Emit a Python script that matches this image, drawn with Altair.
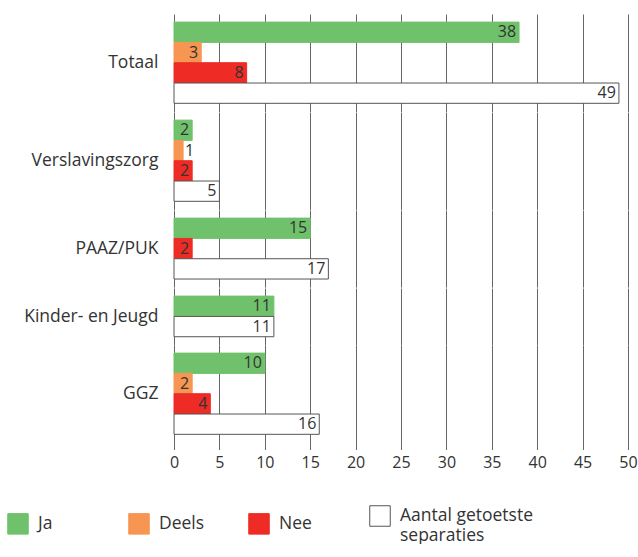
import altair as alt
import pandas as pd

categories = ["Totaal", "Verslavingszorg", "PAAZ/PUK", "Kinder- en Jeugd", "GGZ"]
series = ["Ja", "Deels", "Nee", "Aantal getoetste separaties"]
ja = [38, 2, 15, 11, 10]
deels = [3, 1, 0, 0, 2]
nee = [8, 2, 2, 0, 4]
aantal = [49, 5, 17, 11, 16]
x_ticks = [0, 5, 10, 15, 20, 25, 30, 35, 40, 45, 50]

fill_colors = ["#6fc26b", "#f79552", "#ee2b25", "#ffffff"]
stroke_colors = ["#6fc26b", "#f79552", "#ee2b25", "#555555"]

rows = []
for i, c in enumerate(categories):
    for s, vals in zip(series, [ja, deels, nee, aantal]):
        if vals[i] > 0:
            rows.append({"category": c, "series": s, "value": vals[i]})
df = pd.DataFrame(rows)

FONT = "Open Sans"
TXT = "#333333"
GRID = "#666666"
NB = "\u00a0"
ZW = "\u200b"

x_scale = alt.Scale(domain=[0, 50], nice=False)

legend = alt.Legend(
    title=None, orient="none", legendX=-167, legendY=491,
    direction="horizontal", columns=4, columnPadding=0,
    symbolType="square", symbolSize=420, symbolStrokeWidth=1,
    labelFont=FONT, labelFontSize=17.5, labelColor=TXT, labelOffset=9,
    labelLimit=250, padding=0,
    labelExpr=(
        "datum.label == 'Aantal getoetste separaties' ? ['Aantal getoetste', 'separaties'] : "
        f"datum.label == 'Ja' ? pad('Ja', 18, '{NB}') + '{ZW}' : "
        f"datum.label == 'Deels' ? pad('Deels', 14, '{NB}') + '{ZW}' : "
        f"pad(datum.label, 15, '{NB}') + '{ZW}'"
    ),
)

color_enc = alt.Color("series:N", sort=series,
                      scale=alt.Scale(domain=series, range=fill_colors), legend=legend)
stroke_enc = alt.Stroke("series:N", sort=series,
                        scale=alt.Scale(domain=series, range=stroke_colors), legend=legend)


def panel(cat, last):
    y_enc = alt.Y(
        "series:N", sort=series,
        scale=alt.Scale(paddingInner=0, paddingOuter=0.4),
        axis=alt.Axis(title=cat, titleAngle=0, titleAlign="right", titleBaseline="middle",
                      titlePadding=16, titleFont=FONT, titleFontSize=17.5,
                      titleFontWeight="normal", titleColor=TXT,
                      labels=False, ticks=False, domain=False, grid=False,
                      minExtent=0, maxExtent=0),
    )
    if last:
        x_axis = alt.Axis(values=x_ticks, title=None, grid=True, gridColor=GRID,
                          tickColor=GRID, tickSize=7, domain=False, labelFlush=False,
                          labelFont=FONT, labelFontSize=16, labelColor=TXT, labelPadding=5)
    else:
        x_axis = alt.Axis(values=x_ticks, title=None, grid=True, gridColor=GRID,
                          labels=False, ticks=False, domain=False)
    base = alt.Chart(df).transform_filter(alt.datum.category == cat)
    bars = base.mark_bar(strokeWidth=1).encode(
        y=y_enc,
        x=alt.X("value:Q", scale=x_scale, axis=x_axis),
        color=color_enc,
        stroke=stroke_enc,
    )
    text_in = base.transform_filter("datum.value >= 2").mark_text(
        align="right", dx=-3, font=FONT, fontSize=16, color=TXT
    ).encode(y=alt.Y("series:N", sort=series), x=alt.X("value:Q", scale=x_scale), text="value:Q")
    text_out = base.transform_filter("datum.value < 2").mark_text(
        align="left", dx=2, font=FONT, fontSize=16, color=TXT
    ).encode(y=alt.Y("series:N", sort=series), x=alt.X("value:Q", scale=x_scale), text="value:Q")
    return alt.layer(bars, text_in, text_out).properties(width=454, height=alt.Step(20.3))


panels = [panel(c, i == len(categories) - 1) for i, c in enumerate(categories)]

chart = alt.vconcat(*panels, spacing=0, bounds="flush").resolve_scale(
    y="independent", x="shared", color="shared", stroke="shared"
).properties(
    padding={"left": 7, "top": 14, "right": 0, "bottom": 0},
).configure_view(stroke=None)

chart.save("out.html", embed_options={"renderer": "svg", "actions": False})
